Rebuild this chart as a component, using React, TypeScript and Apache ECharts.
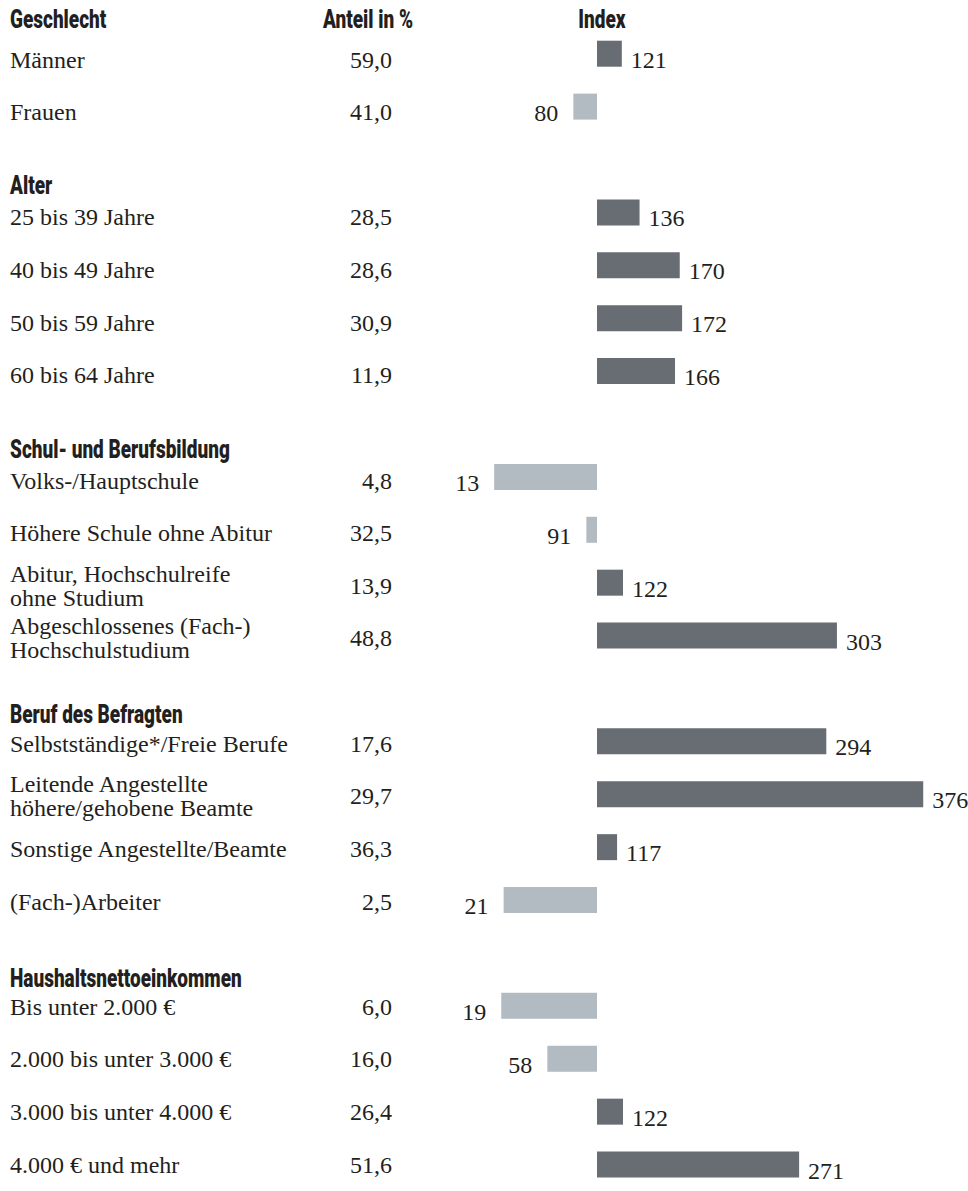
import React, { useEffect, useRef } from "react";
import * as echarts from "echarts";

// ---------- data ----------
const sectionTitles = [
  "Geschlecht",
  "Alter",
  "Schul- und Berufsbildung",
  "Beruf des Befragten",
  "Haushaltsnettoeinkommen",
];

const categories = [
  ["Männer", "Frauen"],
  ["25 bis 39 Jahre", "40 bis 49 Jahre", "50 bis 59 Jahre", "60 bis 64 Jahre"],
  [
    "Volks-/Hauptschule",
    "Höhere Schule ohne Abitur",
    "Abitur, Hochschulreife\nohne Studium",
    "Abgeschlossenes (Fach-)\nHochschulstudium",
  ],
  [
    "Selbstständige*/Freie Berufe",
    "Leitende Angestellte\nhöhere/gehobene Beamte",
    "Sonstige Angestellte/Beamte",
    "(Fach-)Arbeiter",
  ],
  ["Bis unter 2.000 €", "2.000 bis unter 3.000 €", "3.000 bis unter 4.000 €", "4.000 € und mehr"],
];

const shareValues = [
  [59.0, 41.0],
  [28.5, 28.6, 30.9, 11.9],
  [4.8, 32.5, 13.9, 48.8],
  [17.6, 29.7, 36.3, 2.5],
  [6.0, 16.0, 26.4, 51.6],
];

const indexValues = [
  [121, 80],
  [136, 170, 172, 166],
  [13, 91, 122, 303],
  [294, 376, 117, 21],
  [19, 58, 122, 271],
];

const columnHeaders = ["Anteil in %", "Index"];
const INDEX_BASE = 100;

// ---------- rows (blank row before each section header except first) ----------
const rowNames: string[] = [];
const rowShares: (number | null)[] = [];
const rowIndex: (number | null)[] = [];
const rowIsHeader: boolean[] = [];
const sectionFirstRow: number[] = [];
sectionTitles.forEach((title, s) => {
  if (s > 0) {
    rowNames.push(title);
    rowShares.push(null);
    rowIndex.push(null);
    rowIsHeader.push(true);
  }
  sectionFirstRow.push(rowNames.length);
  categories[s].forEach((c, k) => {
    rowNames.push(c);
    rowShares.push(shareValues[s][k]);
    rowIndex.push(indexValues[s][k]);
    rowIsHeader.push(false);
  });
});

// ---------- layout / style ----------
const W = 968;
const H = 1191;
const ROW_H = 53.5;
const GRID_TOP = 54 - ROW_H / 2;
const TEXT_SHIFT = 6; // row texts sit slightly lower than bar centres
const PX_PER_UNIT = 1.182;
const X_MAX = 400;
const BASE_X = 597;
const GRID_LEFT = BASE_X - INDEX_BASE * PX_PER_UNIT;
const GRID_WIDTH = X_MAX * PX_PER_UNIT;
const NAME_X = 10;
const SHARE_RIGHT_X = 392;

const SERIF = "'Liberation Serif', 'Times New Roman', serif";
const HEAD_FONT = "Roboto, 'DejaVu Sans', sans-serif";
const TEXT_COLOR = "#231f20";
const DARK = "#686d74";
const LIGHT = "#b2bac2";

const fmtShare = (v: number) => v.toFixed(1).replace(".", ",");

const labelText = {
  fontFamily: SERIF,
  fontSize: 24,
  color: TEXT_COLOR,
};

export default function App() {
  const ref = useRef<HTMLDivElement>(null);

  useEffect(() => {
    document.body.style.margin = "0";
    const chart = echarts.init(ref.current!, null, { renderer: "svg" });

    const hiddenAxis = {
      axisLine: { show: false },
      axisTick: { show: false },
      splitLine: { show: false },
    };
    const gridBase = {
      left: GRID_LEFT,
      width: GRID_WIDTH,
      height: ROW_H * rowNames.length,
      containLabel: false,
    };

    chart.setOption({
      animation: false,
      backgroundColor: "#ffffff",
      grid: [
        { ...gridBase, top: GRID_TOP },
        { ...gridBase, top: GRID_TOP + TEXT_SHIFT },
      ],
      xAxis: [
        { type: "value", min: 0, max: X_MAX, show: false, gridIndex: 0 },
        { type: "value", min: 0, max: X_MAX, show: false, gridIndex: 1 },
      ],
      yAxis: [
        {
          type: "category",
          inverse: true,
          gridIndex: 0,
          data: rowNames,
          ...hiddenAxis,
          axisLabel: { show: false },
        },
        {
          type: "category",
          inverse: true,
          gridIndex: 1,
          position: "left",
          data: rowNames,
          ...hiddenAxis,
          axisLabel: {
            ...labelText,
            interval: 0,
            align: "left",
            margin: GRID_LEFT - NAME_X,
            lineHeight: 24,
            formatter: (v: string, i: number) => (rowIsHeader[i] ? "" : v),
          },
        },
        {
          type: "category",
          inverse: true,
          gridIndex: 1,
          position: "left",
          data: rowNames,
          ...hiddenAxis,
          axisLabel: {
            ...labelText,
            interval: 0,
            align: "right",
            margin: GRID_LEFT - SHARE_RIGHT_X,
            formatter: (_v: string, i: number) =>
              rowShares[i] == null ? "" : fmtShare(rowShares[i] as number),
          },
        },
      ],
      series: [
        {
          type: "bar",
          stack: "idx",
          xAxisIndex: 0,
          yAxisIndex: 0,
          barWidth: 26,
          silent: true,
          itemStyle: { color: "rgba(0,0,0,0)" },
          data: rowIndex.map((v) => (v == null ? "-" : Math.min(v, INDEX_BASE))),
        },
        {
          type: "bar",
          stack: "idx",
          xAxisIndex: 0,
          yAxisIndex: 0,
          barWidth: 26,
          itemStyle: { color: DARK },
          data: rowIndex.map((v) => (v != null && v >= INDEX_BASE ? v - INDEX_BASE : "-")),
          label: {
            show: true,
            position: "right",
            distance: 9,
            offset: [0, TEXT_SHIFT],
            ...labelText,
            formatter: (p: any) => String(rowIndex[p.dataIndex]),
          },
        },
        {
          type: "bar",
          stack: "idx",
          xAxisIndex: 0,
          yAxisIndex: 0,
          barWidth: 26,
          itemStyle: { color: LIGHT },
          data: rowIndex.map((v) => (v != null && v < INDEX_BASE ? INDEX_BASE - v : "-")),
          label: {
            show: true,
            position: "left",
            distance: 15,
            offset: [0, TEXT_SHIFT],
            ...labelText,
            formatter: (p: any) => String(rowIndex[p.dataIndex]),
          },
        },
      ],
    });

    // section headers placed relative to the category axis rows
    const headStyle = (text: string, align: string) => ({
      text,
      font: `900 25px ${HEAD_FONT}`,
      fill: TEXT_COLOR,
      align,
      verticalAlign: "middle",
    });
    const SCALE_X = 0.76;
    const graphics: any[] = [];
    sectionTitles.forEach((title, s) => {
      const yRow = chart.convertToPixel({ yAxisIndex: 0 }, sectionFirstRow[s]) as number;
      const y = s === 0 ? yRow - 34.5 : yRow - 27.5;
      graphics.push({ type: "text", x: NAME_X, y, scaleX: SCALE_X, style: headStyle(title, "left") });
      if (s === 0) {
        graphics.push({ type: "text", x: 323, y, scaleX: SCALE_X, style: headStyle(columnHeaders[0], "left") });
        graphics.push({ type: "text", x: 602, y, scaleX: SCALE_X, style: headStyle(columnHeaders[1], "center") });
      }
    });
    chart.setOption({ graphic: graphics });

    return () => chart.dispose();
  }, []);

  return <div ref={ref} style={{ width: W, height: H }} />;
}
